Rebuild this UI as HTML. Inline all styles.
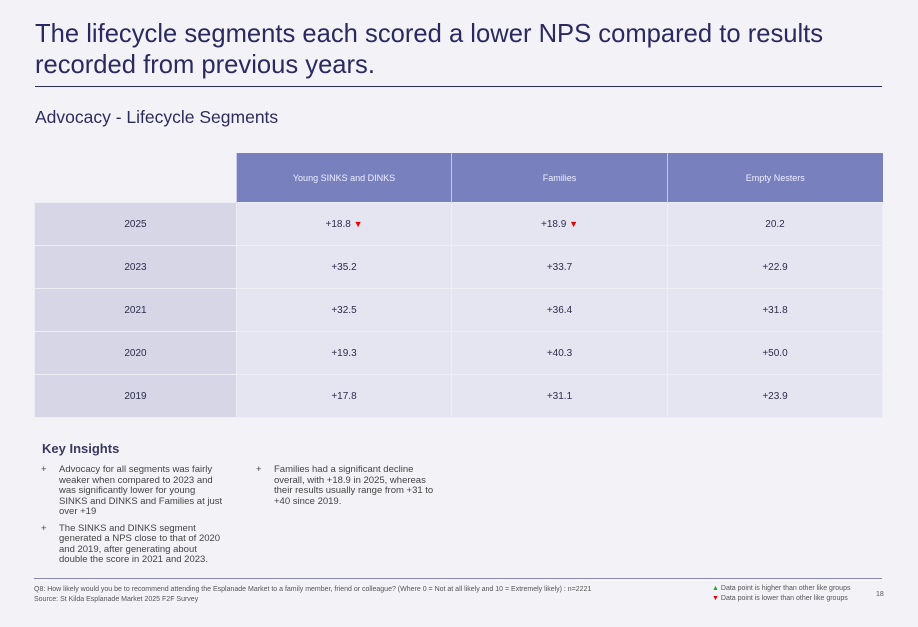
<!DOCTYPE html>
<html><head><style>
body{margin:0;width:918px;height:627px;background:#f3f2f7;font-family:"Liberation Sans",sans-serif;position:relative;overflow:hidden;color:#2d2c5e}
.a{position:absolute}
h1{position:absolute;left:35px;top:19px;margin:0;font-size:25.6px;font-weight:normal;line-height:31px;color:#2b2a60}
table{position:absolute;left:34px;top:153px;border-collapse:collapse;table-layout:fixed;width:848px}
td{font-size:10px;text-align:center;color:#2d2c4a;height:42px;border:1px solid #eeedf5;padding:0}
th{background:#7880be;color:#eef;font-weight:normal;font-size:9px;height:49px;border-left:1px solid #c9cbe6;padding:0}
td.y{background:#d6d6e7}
td.v{background:#e5e5f2}
.dn{color:#e00;font-size:9px}
ul{position:absolute;margin:0;padding:0;list-style:none;font-size:9.5px;line-height:10.5px;color:#444}
li{position:relative;padding-left:18px;margin-bottom:6px}
li:before{content:"+";position:absolute;left:0}
</style></head><body>
<h1>The lifecycle segments each scored a lower NPS compared to results<br>recorded from previous years.</h1>
<div class="a" style="left:35px;top:86px;width:847px;height:1px;background:#2d2c5e"></div>
<div class="a" style="left:35px;top:107px;font-size:17.5px">Advocacy - Lifecycle Segments</div>
<table>
<colgroup><col style="width:202px"><col style="width:215px"><col style="width:216px"><col style="width:215px"></colgroup>
<tr><td style="background:none;border:none;height:49px"></td><th>Young SINKS and DINKS</th><th>Families</th><th>Empty Nesters</th></tr>
<tr><td class="y">2025</td><td class="v">+18.8 <span class="dn">▼</span></td><td class="v">+18.9 <span class="dn">▼</span></td><td class="v">20.2</td></tr>
<tr><td class="y">2023</td><td class="v">+35.2</td><td class="v">+33.7</td><td class="v">+22.9</td></tr>
<tr><td class="y">2021</td><td class="v">+32.5</td><td class="v">+36.4</td><td class="v">+31.8</td></tr>
<tr><td class="y">2020</td><td class="v">+19.3</td><td class="v">+40.3</td><td class="v">+50.0</td></tr>
<tr><td class="y">2019</td><td class="v">+17.8</td><td class="v">+31.1</td><td class="v">+23.9</td></tr>
</table>
<div class="a" style="left:42px;top:441px;font-size:13px;font-weight:bold;color:#3a3960">Key Insights</div>
<ul style="left:41px;top:465px;width:185px"><li>Advocacy for all segments was fairly weaker when compared to 2023 and was significantly lower for young SINKS and DINKS and Families at just over +19</li><li>The SINKS and DINKS segment generated a NPS close to that of 2020 and 2019, after generating about double the score in 2021 and 2023.</li></ul>
<ul style="left:256px;top:465px;width:190px"><li>Families had a significant decline overall, with +18.9 in 2025, whereas their results usually range from +31 to +40 since 2019.</li></ul>
<div class="a" style="left:34px;top:578px;width:848px;height:1px;background:#8a89a8"></div>
<div class="a" style="left:34px;top:585px;font-size:7px;line-height:10px;color:#555">Q8: How likely would you be to recommend attending the Esplanade Market to a family member, friend or colleague? (Where 0 = Not at all likely and 10 = Extremely likely) : n=2221<br>Source: St Kilda Esplanade Market 2025 F2F Survey</div>
<div class="a" style="left:712px;top:584px;font-size:7px;line-height:10px;color:#555"><span style="color:#2a2">▲</span> Data point is higher than other like groups<br><span style="color:#e00">▼</span> Data point is lower than other like groups</div>
<div class="a" style="left:876px;top:591px;font-size:7px;color:#555">18</div>
</body></html>
